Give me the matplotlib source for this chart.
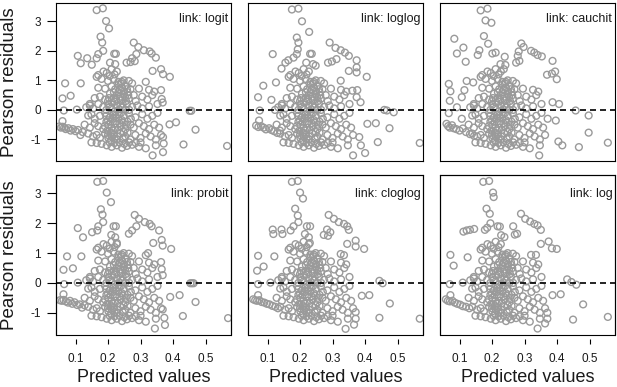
import matplotlib
matplotlib.use("Agg")
import matplotlib.pyplot as plt
from matplotlib.patches import Rectangle

plt.rcParams["font.family"] = ["Liberation Sans", "DejaVu Sans"]

# panel order, row by row
LINKS = ["logit", "loglog", "cauchit", "probit", "cloglog", "log"]
X_TICKS = [0.1, 0.2, 0.3, 0.4, 0.5]
Y_TICKS = [-1, 0, 1, 2, 3]

# dense middle of the cloud, roughly the same in every panel
core_pts = [
    (0.170, 1.18), (0.186, 1.30), (0.196, 1.25), (0.211, 1.38), (0.227, 1.30), (0.205, 1.15), (0.220, 1.20),
    (0.165, 1.12), (0.180, 1.05), (0.200, 0.98), (0.217, 1.05), (0.232, 0.95), (0.248, 1.00), (0.264, 0.98),
    (0.274, 0.90), (0.240, 0.90),
    (0.170, 0.75), (0.191, 0.72), (0.211, 0.80), (0.222, 0.70), (0.232, 0.85), (0.243, 0.75), (0.253, 0.82),
    (0.269, 0.70), (0.295, 0.72), (0.326, 0.68), (0.342, 0.62), (0.236, 0.68), (0.248, 0.62), (0.260, 0.60),
    (0.144, 0.20), (0.159, 0.40), (0.175, 0.45), (0.191, 0.35), (0.206, 0.55), (0.217, 0.40), (0.227, 0.50),
    (0.238, 0.45), (0.248, 0.55), (0.264, 0.38), (0.279, 0.50), (0.305, 0.45), (0.321, 0.35), (0.336, 0.50),
    (0.200, 0.30), (0.220, 0.28), (0.240, 0.32), (0.255, 0.30), (0.285, 0.30),
    (0.133, 0.09), (0.144, 0.15), (0.154, 0.05), (0.170, 0.20), (0.185, 0.10), (0.201, 0.18), (0.211, 0.05),
    (0.227, 0.15), (0.243, 0.08), (0.258, 0.20), (0.274, 0.10), (0.290, 0.15), (0.305, 0.05), (0.326, 0.12),
    (0.352, 0.20), (0.195, 0.00), (0.235, 0.02), (0.265, 0.00),
    (0.139, -0.19), (0.149, -0.15), (0.159, -0.30), (0.175, -0.20), (0.191, -0.10), (0.206, -0.25),
    (0.217, -0.15), (0.232, -0.30), (0.248, -0.20), (0.264, -0.12), (0.284, -0.25), (0.305, -0.15),
    (0.321, -0.30), (0.336, -0.20), (0.352, -0.10), (0.200, -0.35), (0.222, -0.05), (0.240, -0.10),
    (0.270, -0.30),
    (0.128, -0.50), (0.144, -0.60), (0.159, -0.45), (0.170, -0.55), (0.185, -0.65), (0.201, -0.50),
    (0.211, -0.60), (0.222, -0.45), (0.238, -0.55), (0.253, -0.65), (0.269, -0.50), (0.279, -0.60),
    (0.295, -0.45), (0.310, -0.55), (0.326, -0.65), (0.342, -0.50), (0.357, -0.60), (0.195, -0.40),
    (0.215, -0.70), (0.230, -0.68), (0.245, -0.42), (0.260, -0.40),
    (0.139, -0.80), (0.154, -0.90), (0.165, -0.85), (0.175, -0.95), (0.191, -0.80), (0.201, -0.95),
    (0.217, -0.85), (0.227, -1.00), (0.238, -0.80), (0.253, -0.90), (0.269, -1.00), (0.284, -0.85),
    (0.300, -0.95), (0.316, -0.80), (0.331, -0.90), (0.347, -1.00), (0.363, -0.85), (0.208, -0.78),
    (0.245, -0.98), (0.260, -0.77),
    (0.149, -1.10), (0.165, -1.12), (0.180, -1.15), (0.196, -1.20), (0.211, -1.25), (0.227, -1.20),
    (0.243, -1.28), (0.258, -1.22), (0.274, -1.18), (0.295, -1.25), (0.316, -1.30), (0.347, -1.20),
    (0.205, -1.10), (0.220, -1.12), (0.235, -1.10), (0.250, -1.15), (0.265, -1.10), (0.285, -1.12),
    (0.300, -1.10),
    (0.195, -0.20), (0.205, 0.10), (0.215, -0.30), (0.225, 0.35), (0.235, -0.45), (0.245, 0.20),
    (0.255, -0.50), (0.212, -0.90), (0.222, -0.60), (0.232, 0.60), (0.242, 0.95), (0.252, 0.45),
    (0.198, -0.70), (0.208, -0.40), (0.218, 0.60), (0.228, -0.90), (0.238, 0.15), (0.248, -0.75),
    (0.258, 0.70), (0.203, 0.40), (0.213, 0.25), (0.223, -0.20), (0.233, -0.15), (0.243, -0.35),
    (0.253, 0.00), (0.262, 0.50), (0.190, -0.55), (0.200, -0.85), (0.210, -1.05), (0.220, -0.98),
]

# points outside the dense middle, read panel by panel
logit_pts = [
    (0.165, 3.38), (0.184, 3.44), (0.194, 3.01), (0.203, 2.76), (0.177, 2.48), (0.182, 2.28), (0.185, 2.00),
    (0.170, 1.89), (0.165, 1.75), (0.150, 1.53), (0.136, 1.75), (0.107, 1.83), (0.116, 1.58), (0.219, 1.90),
    (0.224, 1.90), (0.206, 1.60), (0.222, 1.55), (0.279, 2.28), (0.293, 2.13), (0.310, 2.02), (0.328, 1.98),
    (0.334, 1.91), (0.347, 1.77), (0.287, 1.89), (0.274, 1.75), (0.257, 1.60), (0.269, 1.62), (0.282, 1.65),
    (0.337, 1.32), (0.363, 1.38), (0.369, 1.21), (0.390, 1.12), (0.316, 0.95), (0.363, 0.67), (0.365, 0.37),
    (0.368, 0.25),
    (0.068, 0.90), (0.116, 0.90), (0.060, 0.39), (0.085, 0.48), (0.064, -0.02), (0.104, 0.01), (0.060, -0.38),
    (0.050, -0.56), (0.055, -0.60), (0.060, -0.57), (0.065, -0.60), (0.070, -0.65), (0.078, -0.62),
    (0.085, -0.70), (0.092, -0.65), (0.100, -0.72), (0.108, -0.68), (0.115, -0.85), (0.122, -0.75),
    (0.451, -0.03), (0.456, -0.03), (0.409, -0.42), (0.389, -0.49), (0.469, -0.67), (0.432, -1.17),
    (0.566, -1.22), (0.369, -0.92), (0.371, -1.14), (0.369, -1.43), (0.337, -1.54),
]
loglog_pts = [
    (0.175, 3.40), (0.195, 3.43), (0.206, 3.00), (0.228, 2.64), (0.190, 2.45), (0.195, 2.28), (0.193, 2.05),
    (0.190, 1.89), (0.180, 1.77), (0.164, 1.68), (0.155, 1.60), (0.116, 1.89), (0.143, 1.40), (0.231, 1.90),
    (0.236, 1.90), (0.219, 1.60), (0.240, 1.55), (0.248, 1.50), (0.291, 2.28), (0.309, 2.10), (0.325, 2.02),
    (0.338, 1.94), (0.350, 1.83), (0.374, 1.68), (0.286, 1.60), (0.298, 1.64), (0.312, 1.72), (0.350, 1.32),
    (0.374, 1.44), (0.374, 1.27), (0.405, 1.12), (0.325, 0.99), (0.361, 0.65), (0.376, 0.67), (0.374, 0.43),
    (0.386, 0.26),
    (0.087, 0.82), (0.071, 0.43), (0.126, 0.93), (0.112, 0.34), (0.076, -0.02), (0.123, 0.00), (0.074, -0.36),
    (0.065, -0.53), (0.072, -0.58), (0.080, -0.55), (0.088, -0.60), (0.095, -0.66), (0.105, -0.62),
    (0.112, -0.68), (0.120, -0.72), (0.130, -0.78), (0.138, -0.70),
    (0.459, 0.00), (0.467, -0.02), (0.488, -0.08), (0.433, -0.45), (0.407, -0.47), (0.475, -0.62),
    (0.439, -1.09), (0.568, -1.12), (0.382, -0.92), (0.387, -1.20), (0.400, -1.46), (0.363, -1.54),
]
cauchit_pts = [
    (0.165, 3.37), (0.186, 3.43), (0.180, 3.03), (0.198, 2.95), (0.084, 2.41), (0.175, 2.50), (0.188, 2.24),
    (0.112, 2.11), (0.092, 1.91), (0.119, 1.63), (0.161, 2.02), (0.156, 1.86), (0.201, 1.91), (0.211, 1.94),
    (0.239, 1.80), (0.226, 1.55), (0.241, 1.52), (0.236, 1.38), (0.290, 2.25), (0.297, 2.13), (0.282, 1.98),
    (0.279, 1.83), (0.274, 1.60), (0.284, 1.66), (0.320, 2.00), (0.330, 1.94), (0.340, 1.86), (0.353, 1.81),
    (0.386, 1.66), (0.369, 1.19), (0.384, 1.23), (0.394, 1.30), (0.399, 1.04),
    (0.067, 0.88), (0.072, 0.63), (0.070, 0.31), (0.107, 0.43), (0.067, -0.11), (0.092, 0.09), (0.107, -0.30),
    (0.122, 0.98), (0.142, 0.93), (0.115, 0.67),
    (0.060, -0.47), (0.065, -0.55), (0.070, -0.60), (0.077, -0.52), (0.082, -0.62), (0.090, -0.65),
    (0.100, -0.70), (0.110, -0.63), (0.120, -0.75), (0.132, -0.82), (0.145, -0.88),
    (0.457, -0.02), (0.497, -0.19), (0.497, -0.77), (0.467, -1.26), (0.556, -1.11), (0.416, -1.20),
    (0.404, -1.07), (0.345, -1.54), (0.386, 0.26), (0.406, 0.20), (0.371, -0.30), (0.396, -0.36),
]
probit_pts = [
    (0.167, 3.39), (0.185, 3.42), (0.196, 3.03), (0.209, 2.71), (0.178, 2.47), (0.183, 2.29), (0.185, 2.04),
    (0.170, 1.90), (0.167, 1.76), (0.151, 1.70), (0.107, 1.84), (0.123, 1.53), (0.217, 1.90), (0.224, 1.90),
    (0.210, 1.61), (0.222, 1.53), (0.227, 1.34), (0.282, 2.28), (0.295, 2.15), (0.313, 2.04), (0.328, 1.98),
    (0.334, 1.90), (0.357, 1.76), (0.287, 1.90), (0.274, 1.76), (0.264, 1.65), (0.339, 1.34), (0.365, 1.44),
    (0.368, 1.25), (0.394, 1.14), (0.323, 1.00), (0.316, 0.93), (0.363, 0.70), (0.365, 0.46), (0.368, 0.26),
    (0.074, 0.89), (0.118, 0.89), (0.063, 0.44), (0.092, 0.49), (0.065, -0.04), (0.107, 0.01), (0.063, -0.38),
    (0.052, -0.58), (0.058, -0.60), (0.063, -0.57), (0.070, -0.62), (0.077, -0.66), (0.083, -0.60),
    (0.090, -0.70), (0.097, -0.65), (0.105, -0.74), (0.113, -0.72), (0.120, -0.83), (0.128, -0.75),
    (0.453, -0.01), (0.458, -0.01), (0.463, -0.01), (0.420, -0.41), (0.391, -0.47), (0.469, -0.64),
    (0.430, -1.11), (0.569, -1.18), (0.368, -0.89), (0.373, -1.17), (0.375, -1.41), (0.344, -1.53),
]
cloglog_pts = [
    (0.175, 3.39), (0.193, 3.42), (0.200, 3.03), (0.209, 2.83), (0.185, 2.49), (0.193, 2.26), (0.195, 2.04),
    (0.180, 1.90), (0.171, 1.76), (0.116, 1.79), (0.118, 1.64), (0.143, 1.79), (0.146, 1.64), (0.221, 1.90),
    (0.231, 1.90), (0.215, 1.64), (0.227, 1.53), (0.230, 1.34), (0.288, 2.28), (0.304, 2.15), (0.319, 2.04),
    (0.335, 1.98), (0.345, 1.90), (0.350, 1.78), (0.283, 1.79), (0.293, 1.70), (0.273, 1.61), (0.286, 1.58),
    (0.345, 1.31), (0.371, 1.42), (0.371, 1.22), (0.397, 1.14), (0.325, 0.97), (0.335, 0.93),
    (0.071, 0.91), (0.088, 0.55), (0.068, 0.41), (0.121, 0.89), (0.071, -0.04), (0.109, 0.01), (0.071, -0.41),
    (0.056, -0.55), (0.062, -0.58), (0.068, -0.60), (0.075, -0.58), (0.082, -0.64), (0.090, -0.66),
    (0.098, -0.70), (0.106, -0.72), (0.115, -0.77), (0.124, -0.80), (0.132, -0.85),
    (0.444, 0.07), (0.454, -0.01), (0.390, -0.43), (0.413, -0.41), (0.476, -0.69), (0.444, -1.17),
    (0.568, -1.20), (0.371, -0.98), (0.371, -1.20), (0.366, -1.40), (0.340, -1.54),
]
log_pts = [
    (0.173, 3.39), (0.191, 3.42), (0.203, 3.03), (0.205, 2.88), (0.183, 2.49), (0.193, 2.32), (0.195, 2.00),
    (0.185, 1.85), (0.178, 1.78), (0.112, 1.72), (0.122, 1.76), (0.132, 1.78), (0.145, 1.81), (0.217, 1.90),
    (0.224, 1.89), (0.228, 1.60), (0.238, 1.54), (0.265, 1.90), (0.270, 1.62), (0.277, 1.65), (0.289, 2.32),
    (0.302, 2.15), (0.317, 2.06), (0.330, 1.98), (0.340, 1.93), (0.350, 1.78), (0.374, 1.39), (0.384, 1.16),
    (0.399, 1.14), (0.350, 1.31), (0.320, 0.94), (0.335, 0.94),
    (0.072, 0.94), (0.082, 0.58), (0.125, 0.86), (0.070, -0.04), (0.110, 0.01), (0.072, -0.41),
    (0.058, -0.55), (0.064, -0.60), (0.070, -0.62), (0.078, -0.60), (0.085, -0.66), (0.093, -0.70),
    (0.102, -0.73), (0.110, -0.78), (0.120, -0.80), (0.130, -0.85),
    (0.431, 0.12), (0.444, 0.03), (0.459, -0.06), (0.386, -0.41), (0.411, -0.38), (0.480, -0.72),
    (0.449, -1.23), (0.556, -1.14), (0.370, -1.00), (0.370, -1.20), (0.363, -1.36), (0.340, -1.53),
]

panel_pts = {
    "logit": logit_pts, "loglog": loglog_pts, "cauchit": cauchit_pts,
    "probit": probit_pts, "cloglog": cloglog_pts, "log": log_pts,
}

W, H = 617, 387
col_left = [56, 248, 440]
col_w = 175
row_top = [3, 175]
row_h = [158, 159.5]
point_color = "#9a9a9a"
text_color = "#1a1a1a"

fig = plt.figure(figsize=(W / 100, H / 100), dpi=100)

for i, link in enumerate(LINKS):
    r, c = divmod(i, 3)
    ax = fig.add_axes([col_left[c] / W, (H - row_top[r] - row_h[r]) / H,
                       col_w / W, row_h[r] / H])
    xs, ys = zip(*(core_pts + panel_pts[link]))
    ax.scatter(xs, ys, s=24, facecolors="none", edgecolors=point_color,
               linewidths=1.0, zorder=2)
    ax.axhline(0, color="black", lw=1.2, linestyle=(0, (3.6, 2.4)), zorder=3)
    ax.set_xlim(0.04, 0.578)
    ax.set_ylim(-1.73, 3.62)

    for sp in ax.spines.values():
        sp.set_linewidth(0.8)

    if c == 0:
        ax.set_yticks(Y_TICKS)
        ax.set_yticklabels([str(v) for v in Y_TICKS])
        ax.tick_params(axis="y", direction="out", length=6.5, width=0.8,
                       pad=4.5, labelsize=8.5, labelcolor=text_color)
        fig.text(10 / W, (H - row_top[r] - row_h[r] / 2) / H, "Pearson residuals",
                 rotation=90, ha="center", va="center", fontsize=13.5,
                 color=text_color)
    else:
        ax.set_yticks([])

    if r == 1:
        # R-style axis: ticks drawn a little below the box, no axis line
        ax.spines["bottom"].set_position(("outward", 3))
        ax.spines["bottom"].set_visible(False)
        ax.add_patch(Rectangle((0, 0), 1, 1, transform=ax.transAxes, fill=False,
                               lw=0.8, edgecolor="black", clip_on=False, zorder=4))
        ax.set_xticks(X_TICKS)
        ax.set_xticklabels([f"{v:.1f}" for v in X_TICKS])
        ax.tick_params(axis="x", direction="out", length=3.6, width=0.8,
                       pad=7.0, labelsize=8.5, labelcolor=text_color)
        fig.text((col_left[c] + col_w / 2) / W, 0.5 / H, "Predicted values",
                 ha="center", va="bottom", fontsize=13, color=text_color)
    else:
        ax.set_xticks([])

    ax.annotate(f"link: {link}", xy=(0.985, 1), xycoords="axes fraction",
                xytext=(0, -7.5 if r == 0 else -9), textcoords="offset points",
                ha="right", va="top", fontsize=9, color=text_color)

fig.savefig("out.png", dpi=100)
